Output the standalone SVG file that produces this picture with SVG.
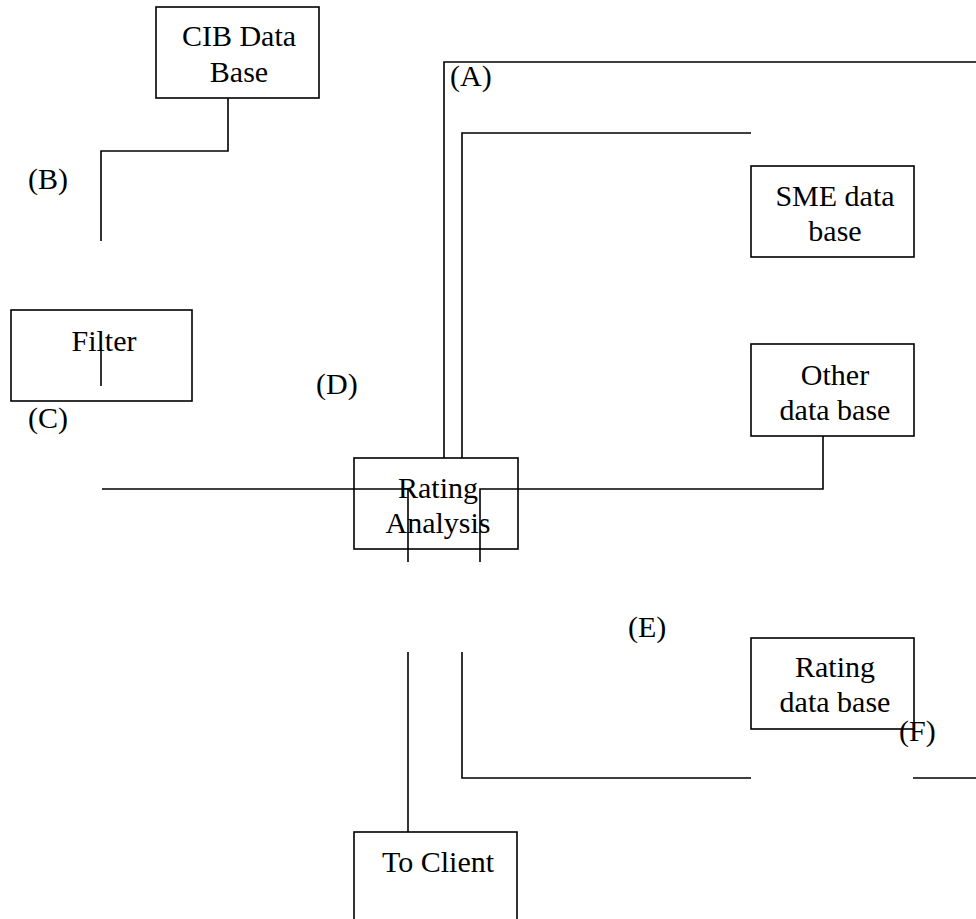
<svg xmlns="http://www.w3.org/2000/svg" width="976" height="919" viewBox="0 0 976 919">
<style>
.box{fill:none;stroke:#000;stroke-width:1.6}
.ln{fill:none;stroke:#000;stroke-width:1.6}
text{font-family:"Liberation Serif","Times New Roman",serif;font-size:30px;fill:#000}
.c{text-anchor:middle}
</style>
<rect width="976" height="919" fill="#fff"/>
<g id="connectors">
<path class="ln" d="M444,458 V62 H976"/>
<path class="ln" d="M462,458 V133 H751"/>
<path class="ln" d="M228,98 V151 H101 V241"/>
<path class="ln" d="M101,348 V386"/>
<path class="ln" d="M102,489 H408 V562"/>
<path class="ln" d="M823,436 V489 H480 V562"/>
<path class="ln" d="M408,652 V832"/>
<path class="ln" d="M462,652 V778 H751"/>
<path class="ln" d="M913,778 H976"/>
</g>
<g id="cib">
<rect class="box" x="156" y="7" width="163" height="91"/>
<text class="c" x="239" y="46">CIB Data</text>
<text class="c" x="239" y="82">Base</text>
</g>
<g id="filter">
<rect class="box" x="11" y="310" width="181" height="91"/>
<text class="c" x="104" y="351">Filter</text>
</g>
<g id="sme">
<rect class="box" x="751" y="166" width="163" height="91"/>
<text class="c" x="835" y="206">SME data</text>
<text class="c" x="835" y="241">base</text>
</g>
<g id="other">
<rect class="box" x="751" y="344" width="163" height="92"/>
<text class="c" x="835" y="385">Other</text>
<text class="c" x="835" y="420">data base</text>
</g>
<g id="rating-analysis">
<rect class="box" x="354" y="458" width="164" height="91"/>
<text class="c" x="438" y="498">Rating</text>
<text class="c" x="438" y="533">Analysis</text>
</g>
<g id="rating-db">
<rect class="box" x="751" y="638" width="163" height="91"/>
<text class="c" x="835" y="677">Rating</text>
<text class="c" x="835" y="712">data base</text>
</g>
<g id="to-client">
<rect class="box" x="354" y="832" width="163" height="100"/>
<text class="c" x="438" y="872">To Client</text>
</g>
<g id="labels">
<text x="450" y="86">(A)</text>
<text x="28" y="189">(B)</text>
<text x="28" y="428">(C)</text>
<text x="316" y="394">(D)</text>
<text x="628" y="637">(E)</text>
<text x="899" y="741">(F)</text>
</g>
</svg>
